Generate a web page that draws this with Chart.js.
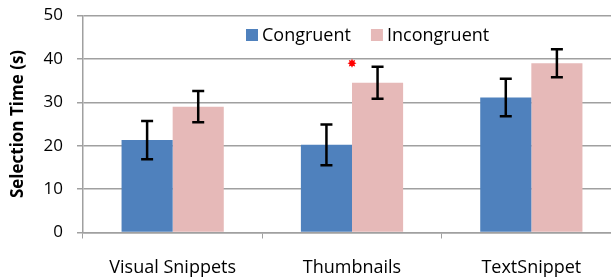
<!DOCTYPE html>
<html>
<head>
<meta charset="utf-8">
<script src="https://cdn.jsdelivr.net/npm/chart.js@4.4.1/dist/chart.umd.min.js"></script>
<style>
  html, body { margin: 0; padding: 0; background: #fff; overflow: hidden; }
  #wrap { width: 611px; height: 278px; overflow: hidden; }
  #box { width: 624px; height: 278px; position: relative; }
</style>
</head>
<body>
<div id="wrap"><div id="box"><canvas id="chart"></canvas></div></div>
<script>
'use strict';

const categories = ['Visual Snippets', 'Thumbnails', 'TextSnippet'];
const congruent = [21.3, 20.2, 31.1];
const congruentErr = [4.4, 4.7, 4.3];
const incongruent = [29.0, 34.5, 39.0];
const incongruentErr = [3.6, 3.7, 3.2];
const yTicks = [0, 10, 20, 30, 40, 50];
// significance marker: category index and value where the red star sits
const starCategory = 1;
const starValue = 39.0;

const FONT = '"Open Sans", "DejaVu Sans", sans-serif';
const GRID = '#a0a0a0';

const errorBars = {
  id: 'errorBars',
  afterDatasetsDraw(chart) {
    const ctx = chart.ctx;
    const y = chart.scales.y;
    ctx.save();
    ctx.strokeStyle = '#000';
    ctx.lineWidth = 2.5;
    chart.data.datasets.forEach((ds, i) => {
      const meta = chart.getDatasetMeta(i);
      meta.data.forEach((bar, j) => {
        const v = ds.data[j], e = ds.errors[j];
        const top = y.getPixelForValue(v + e);
        const bot = y.getPixelForValue(v - e);
        const x = bar.x;
        ctx.beginPath();
        ctx.moveTo(x, top); ctx.lineTo(x, bot);
        ctx.moveTo(x - 6, top); ctx.lineTo(x + 6, top);
        ctx.moveTo(x - 6, bot); ctx.lineTo(x + 6, bot);
        ctx.stroke();
      });
    });
    // red star
    const sx = chart.scales.x.getPixelForValue(starCategory);
    const sy = y.getPixelForValue(starValue);
    ctx.fillStyle = '#ff0000';
    ctx.beginPath();
    for (let k = 0; k < 16; k++) {
      const r = k % 2 === 0 ? 4.5 : 2.6;
      const a = Math.PI * k / 8;
      const px = sx + r * Math.sin(a), py = sy - r * Math.cos(a);
      if (k === 0) ctx.moveTo(px, py); else ctx.lineTo(px, py);
    }
    ctx.closePath();
    ctx.fill();
    ctx.restore();
  }
};

const innerLegend = {
  id: 'innerLegend',
  afterDraw(chart) {
    const ctx = chart.ctx;
    const area = chart.chartArea;
    ctx.save();
    ctx.font = '18px ' + FONT;
    ctx.textBaseline = 'middle';
    let x = area.left + 163;
    const yMid = area.top + 19.5;
    chart.data.datasets.forEach(ds => {
      ctx.fillStyle = ds.backgroundColor;
      ctx.fillRect(x, yMid - 6, 12, 12);
      ctx.fillStyle = '#000';
      ctx.fillText(ds.label, x + 16, yMid + 1);
      x += 16 + ctx.measureText(ds.label).width + 20;
    });
    ctx.restore();
  }
};

new Chart(document.getElementById('chart'), {
  type: 'bar',
  data: {
    labels: categories,
    datasets: [
      { label: 'Congruent', data: congruent, errors: congruentErr, backgroundColor: '#4F81BD' },
      { label: 'Incongruent', data: incongruent, errors: incongruentErr, backgroundColor: '#E6B9B8' }
    ]
  },
  options: {
    responsive: true,
    maintainAspectRatio: false,
    animation: false,
    devicePixelRatio: 1,
    layout: { padding: { top: 15.5, right: 3, left: 0, bottom: 0 } },
    datasets: { bar: { categoryPercentage: 0.57, barPercentage: 1.0 } },
    plugins: { legend: { display: false }, tooltip: { enabled: false } },
    scales: {
      x: {
        offset: true,
        grid: { display: true, drawOnChartArea: false, color: GRID, tickLength: 6, offset: true },
        border: { color: GRID, width: 1.5 },
        ticks: { color: '#000', font: { family: FONT, size: 18 }, padding: 19, maxRotation: 0 },
        afterFit(s) { s.height = 45.5; }
      },
      y: {
        min: 0,
        max: 50,
        afterBuildTicks(s) { s.ticks = yTicks.map(v => ({ value: v })); },
        grid: { color: GRID, lineWidth: 1.5, tickLength: 6 },
        border: { color: GRID, width: 1.5 },
        ticks: { color: '#000', font: { family: FONT, size: 17 }, padding: 14 },
        title: { display: true, text: 'Selection Time (s)', color: '#000', font: { family: FONT, size: 17, weight: 'bold' }, padding: { top: 8, bottom: 0 } },
        afterFit(s) { s.width = 83; s.paddingTop = 0; s.paddingBottom = 0; }
      }
    }
  },
  plugins: [errorBars, innerLegend]
});
</script>
</body>
</html>
